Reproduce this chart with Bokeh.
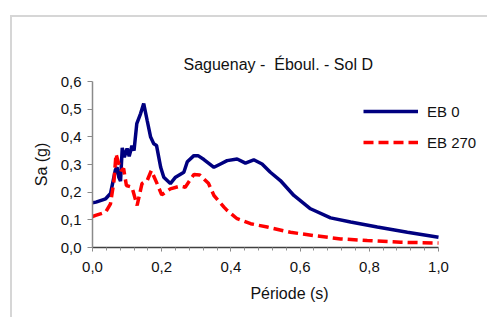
from bokeh.plotting import figure
from bokeh.models import FixedTicker, Legend, LegendItem
from bokeh.embed import file_html
from bokeh.resources import INLINE

# Data (period T in s, Sa in g)
t_eb0 = [0.0, 0.01, 0.038, 0.052, 0.066, 0.071, 0.076, 0.081, 0.086, 0.092, 0.1, 0.106,
         0.114, 0.12, 0.128, 0.139, 0.148, 0.158, 0.168, 0.177, 0.185, 0.197, 0.206,
         0.225, 0.24, 0.264, 0.274, 0.293, 0.305, 0.322, 0.351, 0.37, 0.389, 0.418,
         0.442, 0.466, 0.49, 0.514, 0.543, 0.582, 0.63, 0.688, 0.746, 0.823, 0.91, 1.0]
sa_eb0 = [0.162, 0.164, 0.176, 0.195, 0.28, 0.29, 0.254, 0.24, 0.36, 0.326, 0.358, 0.33,
          0.368, 0.35, 0.448, 0.484, 0.52, 0.459, 0.399, 0.375, 0.369, 0.29, 0.254,
          0.231, 0.254, 0.272, 0.31, 0.332, 0.332, 0.318, 0.29, 0.302, 0.314, 0.32,
          0.305, 0.317, 0.302, 0.272, 0.242, 0.188, 0.14, 0.107, 0.092, 0.074, 0.055, 0.037]

t_eb270 = [0.0, 0.009, 0.038, 0.052, 0.062, 0.068, 0.076, 0.083, 0.09, 0.098, 0.114,
           0.129, 0.143, 0.158, 0.17, 0.187, 0.2, 0.225, 0.254, 0.268, 0.293, 0.31,
           0.335, 0.351, 0.38, 0.389, 0.418, 0.457, 0.505, 0.572, 0.64, 0.717, 0.794,
           0.89, 1.0]
sa_eb270 = [0.112, 0.116, 0.128, 0.158, 0.24, 0.338, 0.302, 0.278, 0.285, 0.224, 0.218,
            0.152, 0.231, 0.242, 0.278, 0.23, 0.19, 0.212, 0.222, 0.218, 0.264, 0.262,
            0.232, 0.188, 0.146, 0.134, 0.104, 0.086, 0.074, 0.055, 0.043, 0.031, 0.025,
            0.019, 0.016]

series_names = ["EB 0", "EB 270"]
y_ticks = [0.0, 0.1, 0.2, 0.3, 0.4, 0.5, 0.6]
y_tick_labels = ["0,0", "0,1", "0,2", "0,3", "0,4", "0,5", "0,6"]
x_ticks = [0.0, 0.2, 0.4, 0.6, 0.8, 1.0]
x_tick_labels = ["0,0", "0,2", "0,4", "0,6", "0,8", "1,0"]
x_minor = [round(i * 0.04, 2) for i in range(26)]

FONT = "Liberation Sans"

p = figure(width=477, height=302, output_backend="svg", toolbar_location=None,
           x_range=(0, 1.1387), y_range=(0, 0.6),
           title="Saguenay - \u00a0Éboul. - Sol D")
p.margin = (15, 0, 0, 10)
p.styles = {"border-left": "2px solid #d6d6d6", "border-top": "2px solid #d6d6d6"}
p.min_border_left = 80
p.min_border_top = 64
p.min_border_right = 3
p.min_border_bottom = 72
p.outline_line_color = None
p.background_fill_color = "white"
p.border_fill_color = "white"
p.xgrid.visible = False
p.ygrid.visible = False

p.title.text_font = FONT
p.title.text_font_size = "16px"
p.title.text_font_style = "normal"
p.title.text_color = "#111111"
p.title.align = "left"
p.title.offset = 91
p.title.standoff = 17

l0 = p.line(t_eb0, sa_eb0, line_color="#000080", line_width=3.5)
l1 = p.line(t_eb270, sa_eb270, line_color="#ff0000", line_width=3.5, line_dash="10 5")

# axes
p.xaxis.ticker = FixedTicker(ticks=x_ticks, minor_ticks=x_minor)
p.xaxis.major_label_overrides = {v: s for v, s in zip(x_ticks, x_tick_labels)}
p.xaxis.bounds = (0, 1.0)
p.yaxis.ticker = FixedTicker(ticks=y_ticks, minor_ticks=[])
p.yaxis.major_label_overrides = {v: s for v, s in zip(y_ticks, y_tick_labels)}

for ax in (p.xaxis, p.yaxis):
    ax.major_label_text_font = FONT
    ax.major_label_text_font_size = "15px"
    ax.major_label_text_color = "#111111"
    ax.axis_label_text_font = FONT
    ax.axis_label_text_font_size = "16px"
    ax.axis_label_text_font_style = "normal"
    ax.axis_label_text_color = "#111111"
    ax.major_tick_in = 0
    ax.minor_tick_in = 0

p.xaxis.axis_label = "Période (s)"
p.yaxis.axis_label = "Sa (g)"
p.xaxis.axis_line_color = "#404040"
p.xaxis.major_tick_line_color = "#808080"
p.xaxis.minor_tick_line_color = "#909090"
p.xaxis.major_tick_out = 4
p.xaxis.minor_tick_out = 3
p.xaxis.major_label_standoff = 10
p.xaxis.axis_label_standoff = 10
p.yaxis.axis_line_color = "#8a8a8a"
p.yaxis.major_tick_line_color = "#8a8a8a"
p.yaxis.major_tick_out = 5
p.yaxis.major_label_standoff = 6
p.yaxis.axis_label_standoff = 8
p.xaxis.axis_line_width = 1.5
p.yaxis.axis_line_width = 1.5

legend = Legend(items=[LegendItem(label=series_names[0], renderers=[l0]),
                       LegendItem(label=series_names[1], renderers=[l1])],
                location=(271, 95))
legend.glyph_width = 55
legend.glyph_height = 20
legend.label_height = 20
legend.spacing = 11
legend.label_standoff = 9
legend.padding = 0
legend.margin = 0
legend.border_line_alpha = 0
legend.background_fill_alpha = 0
legend.label_text_font = FONT
legend.label_text_font_size = "15px"
legend.label_text_color = "#111111"
p.add_layout(legend)

open("out.html", "w").write(file_html(p, INLINE))
